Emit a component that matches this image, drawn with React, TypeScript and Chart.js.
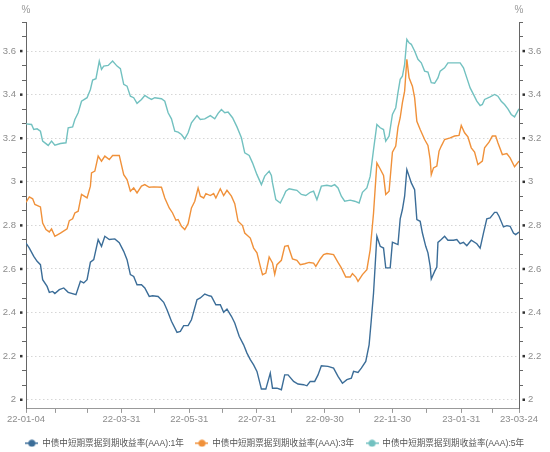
import { useEffect, useRef } from 'react';
import { Chart, registerables } from 'chart.js';

Chart.register(...registerables);

// ---- data ----
const seriesNames = [
  '中债中短期票据到期收益率(AAA):1年',
  '中债中短期票据到期收益率(AAA):3年',
  '中债中短期票据到期收益率(AAA):5年',
];

// x = days since 2022-01-04
const days1Y = [0,3,7,10,13,15,19,21,24,26,30,34,38,45,49,52,55,58,61,65,68,71,75,80,84,88,91,94,97,100,104,107,111,
  114,119,124,127,131,136,139,142,146,149,154,157,161,165,167,171,175,178,181,185,188,192,196,199,202,205,208,212,216,220,222,
  226,230,233,236,241,245,250,253,256,260,263,266,272,277,281,285,289,293,295,299,302,306,309,311,313,316,319,322,324,328,330,333,335,
  337,339,341,343,345,347,350,352,355,357,360,362,364,365,368,370,371,374,377,380,385,388,391,394,397,401,406,409,412,415,418,422,424,426,430,433,436,439,441,444];
const values1Y = [2.719,2.696,2.658,2.635,2.62,2.551,2.52,2.493,2.497,2.487,2.505,2.513,2.493,2.482,2.544,2.536,2.551,2.631,2.643,2.735,2.704,2.75,2.735,2.738,2.721,2.681,2.643,2.574,2.566,2.528,2.528,2.513,2.474,
  2.477,2.474,2.447,2.413,2.36,2.309,2.314,2.34,2.34,2.367,2.459,2.467,2.485,2.477,2.474,2.436,2.436,2.401,2.416,2.383,2.352,2.291,2.252,2.214,2.184,2.16,2.13,2.049,2.049,2.122,2.053,
  2.053,2.046,2.114,2.114,2.084,2.072,2.069,2.064,2.084,2.084,2.114,2.156,2.153,2.145,2.107,2.076,2.092,2.099,2.13,2.125,2.145,2.176,2.252,2.367,2.49,2.75,2.704,2.696,2.605,2.605,2.723,2.716,2.712,
  2.83,2.873,2.934,3.056,3.026,2.995,2.964,2.827,2.819,2.765,2.704,2.674,2.612,2.554,2.589,2.609,2.722,2.735,2.75,2.732,2.732,2.735,2.716,2.722,2.707,2.732,2.716,2.696,2.765,2.83,2.834,2.86,2.86,2.842,2.793,2.799,2.796,2.765,2.758,2.769];

const days3Y = [0,3,6,8,13,15,18,21,23,26,31,37,39,42,44,47,50,55,58,59,62,65,68,71,75,78,84,88,91,94,97,100,104,107,111,
  115,122,125,129,132,135,137,140,143,146,149,152,155,157,160,162,166,169,171,175,178,181,185,188,191,195,197,202,205,208,211,213,216,219,222,
  224,226,230,233,236,240,244,247,251,255,259,261,265,268,271,277,281,284,288,292,294,297,299,303,307,310,313,316,319,322,324,327,330,333,335,
  337,339,341,343,345,348,350,352,355,359,362,364,365,367,370,372,374,377,382,386,390,392,395,398,401,404,407,411,413,417,420,423,425,429,433,436,440,444];
const values3Y = [2.906,2.931,2.922,2.896,2.885,2.811,2.781,2.77,2.784,2.75,2.765,2.784,2.822,2.83,2.857,2.865,2.942,2.926,2.98,3.041,3.049,3.118,3.095,3.118,3.102,3.121,3.121,3.033,3.01,2.957,2.972,2.949,2.98,2.987,2.975,
  2.977,2.975,2.926,2.88,2.857,2.824,2.827,2.796,2.781,2.808,2.88,2.911,2.972,2.934,2.926,2.946,2.937,2.946,2.926,2.968,2.937,2.961,2.934,2.9,2.819,2.799,2.765,2.742,2.696,2.674,2.612,2.574,2.581,2.655,2.628,
  2.575,2.62,2.64,2.704,2.707,2.646,2.64,2.62,2.624,2.63,2.627,2.612,2.646,2.666,2.671,2.666,2.63,2.605,2.563,2.563,2.579,2.563,2.543,2.574,2.597,2.689,2.857,3.087,3.059,3.029,2.942,2.957,3.136,3.164,3.25,
  3.294,3.363,3.416,3.562,3.477,3.439,3.386,3.278,3.24,3.194,3.167,3.102,3.033,3.064,3.072,3.141,3.164,3.194,3.202,3.21,3.213,3.259,3.225,3.206,3.156,3.136,3.079,3.095,3.156,3.182,3.21,3.21,3.179,3.125,3.13,3.11,3.069,3.095];

const days5Y = [0,5,7,10,13,15,20,23,26,31,36,38,42,44,47,50,55,58,60,63,66,68,70,74,78,82,85,88,91,94,97,100,104,107,110,
  113,116,122,125,128,131,134,137,140,143,146,149,154,157,161,166,170,173,176,179,182,186,190,194,197,201,204,208,212,215,219,221,
  222,225,229,232,234,237,240,244,248,252,256,259,262,266,271,275,278,281,284,287,292,296,300,303,307,310,313,316,319,322,324,327,330,333,335,
  337,339,341,343,345,347,350,353,356,359,362,365,368,371,373,377,380,385,391,394,397,400,403,406,409,411,413,418,422,425,428,431,434,437,440,444];
const values5Y = [3.266,3.263,3.24,3.243,3.232,3.187,3.167,3.187,3.168,3.176,3.179,3.248,3.252,3.286,3.317,3.37,3.386,3.424,3.467,3.473,3.554,3.516,3.531,3.534,3.554,3.531,3.519,3.447,3.439,3.393,3.386,3.36,3.378,3.396,3.386,
  3.378,3.386,3.381,3.37,3.317,3.289,3.232,3.228,3.217,3.197,3.225,3.271,3.304,3.286,3.289,3.304,3.289,3.314,3.332,3.317,3.32,3.294,3.252,3.202,3.133,3.121,3.087,3.033,2.987,3.026,3.049,3.029,
  2.995,2.918,2.903,2.934,2.957,2.968,2.965,2.961,2.942,2.937,2.952,2.957,2.918,2.98,2.984,2.98,2.987,2.972,2.934,2.911,2.916,2.911,2.903,2.952,2.972,3.026,3.148,3.263,3.248,3.24,3.187,3.21,3.309,3.34,3.409,
  3.47,3.485,3.539,3.654,3.638,3.631,3.6,3.562,3.546,3.508,3.504,3.455,3.452,3.477,3.508,3.523,3.546,3.546,3.546,3.523,3.477,3.431,3.401,3.37,3.35,3.355,3.378,3.39,3.401,3.393,3.37,3.355,3.335,3.309,3.298,3.335];

const startDate = '2022-01-04';
const xTickDates = ['2022-01-04','2022-01-31','2022-02-28','2022-03-31','2022-04-30','2022-05-31','2022-06-30','2022-07-31',
  '2022-08-31','2022-09-30','2022-10-31','2022-11-30','2022-12-31','2023-01-31','2023-02-28','2023-03-24'];
const xTickLabels = ['22-01-04','','','22-03-31','','22-05-31','','22-07-31','','22-09-30','','22-11-30','','23-01-31','','23-03-24'];

const yMajorTicks = [2, 2.2, 2.4, 2.6, 2.8, 3, 3.2, 3.4, 3.6];
const yMinorPerMajor = 3;
const yMin = 1.958;

const colors = ['#3b6d98', '#f0913a', '#72c1c0'];

// ---- helpers ----
const dayOf = (s: string) => Math.round((Date.parse(s) - Date.parse(startDate)) / 86400000);
const xTickValues = xTickDates.map(dayOf);
const majorStep = yMajorTicks[1] - yMajorTicks[0];
const yTickValues: number[] = [];
for (let k = 0; k <= (yMajorTicks.length - 1) * yMinorPerMajor + 2; k++) {
  yTickValues.push(yMajorTicks[0] + (k * majorStep) / yMinorPerMajor);
}
const yMax = yTickValues[yTickValues.length - 1];
const FONT = 'Liberation Sans, "Noto Sans CJK SC", sans-serif';

function legendMarker(color: string) {
  const c = document.createElement('canvas');
  c.width = 13;
  c.height = 8;
  const g = c.getContext('2d')!;
  g.strokeStyle = color;
  g.lineWidth = 1.5;
  g.beginPath();
  g.moveTo(0, 4);
  g.lineTo(13, 4);
  g.stroke();
  g.fillStyle = color;
  g.beginPath();
  g.arc(6.5, 4, 3.5, 0, Math.PI * 2);
  g.fill();
  return c;
}

export default function App() {
  const ref = useRef<HTMLCanvasElement | null>(null);

  useEffect(() => {
    if (!ref.current) return;
    const markers = colors.map(legendMarker);
    const mk = (days: number[], vals: number[]) => days.map((d, i) => ({ x: d, y: vals[i] }));
    const isMajor = (i: number) => i % yMinorPerMajor === 0;
    const fmt = (v: number) => String(Number(v.toFixed(1)));

    const decor = {
      id: 'decor',
      afterDraw(chart: any) {
        const { ctx } = chart;
        const yl = chart.scales.y;
        const yr = chart.scales.y2;
        ctx.save();
        ctx.fillStyle = '#333';
        yMajorTicks.forEach((v) => {
          const py = yl.getPixelForValue(v);
          ctx.fillRect(yl.right - 6, py - 1.25, 2.5, 2.5);
          ctx.fillRect(yr.left + 3.5, py - 1.25, 2.5, 2.5);
        });
        ctx.fillStyle = '#999';
        ctx.font = `10px ${FONT}`;
        ctx.textAlign = 'center';
        ctx.textBaseline = 'middle';
        ctx.fillText('%', yl.right, 10);
        ctx.fillText('%', yr.left, 10);
        ctx.restore();
      },
    };

    const yAxis = (position: 'left' | 'right', drawArea: boolean, width: number, pad: number) => ({
      type: 'linear' as const,
      position,
      min: yMin,
      max: yMax,
      afterBuildTicks: (s: any) => {
        s.ticks = yTickValues.map((v) => ({ value: v }));
      },
      afterFit: (s: any) => {
        s.width = width;
      },
      ticks: {
        autoSkip: false,
        padding: pad,
        color: '#8c8c8c',
        font: { size: 9.5, family: FONT },
        callback: (v: any, i: number) => (isMajor(i) ? fmt(Number(v)) : ''),
      },
      grid: {
        drawOnChartArea: drawArea,
        tickLength: 4,
        lineWidth: 1,
        color: (c: any) => (isMajor(c.index) ? '#d6d6d6' : 'rgba(0,0,0,0)'),
        tickColor: (c: any) => (isMajor(c.index) ? 'rgba(0,0,0,0)' : '#666'),
      },
      border: { color: '#666', width: 1, dash: [1.5, 2.5] },
    });

    const chart = new Chart(ref.current, {
      type: 'line',
      data: {
        datasets: [
          { label: seriesNames[0], data: mk(days1Y, values1Y), borderColor: colors[0], backgroundColor: colors[0] },
          { label: seriesNames[1], data: mk(days3Y, values3Y), borderColor: colors[1], backgroundColor: colors[1] },
          { label: seriesNames[2], data: mk(days5Y, values5Y), borderColor: colors[2], backgroundColor: colors[2] },
        ].map((d) => ({ ...d, borderWidth: 1.4, pointRadius: 0, pointHoverRadius: 0, tension: 0, fill: false })),
      },
      options: {
        animation: false,
        responsive: true,
        maintainAspectRatio: false,
        layout: { padding: { top: 22, bottom: -5.5, left: 0, right: 0 } },
        plugins: {
          tooltip: { enabled: false },
          legend: {
            position: 'bottom',
            labels: {
              usePointStyle: true,
              pointStyleWidth: 12,
              padding: 12,
              color: '#555',
              font: { size: 8.6, family: FONT },
              generateLabels: (ch: any) =>
                Chart.defaults.plugins.legend.labels.generateLabels(ch).map((l: any, i: number) => ({
                  ...l,
                  pointStyle: markers[i],
                })),
            },
          },
        },
        scales: {
          x: {
            type: 'linear',
            min: 0,
            max: xTickValues[xTickValues.length - 1],
            afterBuildTicks: (s: any) => {
              s.ticks = xTickValues.map((v) => ({ value: v }));
            },
            afterFit: (s: any) => {
              s.height = 18;
            },
            ticks: {
              autoSkip: false,
              maxRotation: 0,
              padding: 1,
              color: '#8c8c8c',
              font: { size: 9.5, family: FONT },
              callback: (_v: any, i: number) => xTickLabels[i],
            },
            grid: { drawOnChartArea: false, tickLength: 4, color: '#999' },
            border: { color: '#999' },
          },
          y: yAxis('left', true, 26, 6),
          y2: yAxis('right', false, 31, 5),
        },
      } as any,
      plugins: [decor],
    });
    return () => chart.destroy();
  }, []);

  return (
    <div style={{ position: 'absolute', left: 0, top: 0, width: 550, height: 452, background: '#fff' }}>
      <canvas ref={ref} />
    </div>
  );
}
